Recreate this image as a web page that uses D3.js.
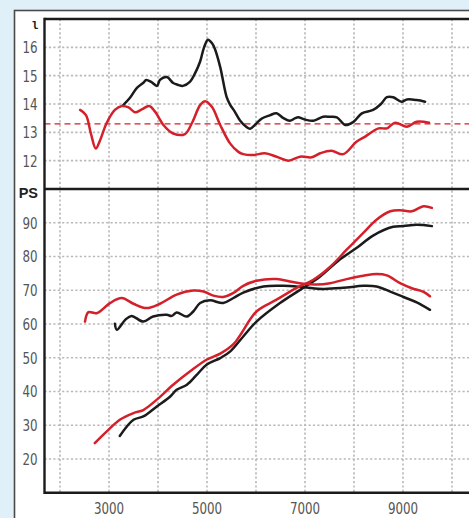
<!DOCTYPE html>
<html><head><meta charset="utf-8">
<script src="https://cdn.jsdelivr.net/npm/d3@7"></script>
<style>
html,body{margin:0;padding:0;background:#dff0f9;}
svg{display:block;}
</style></head>
<body>
<script>
// ---------- DATA ----------
const xTicks = [3000, 5000, 7000, 9000];
const xGrid = [2000, 3000, 4000, 5000, 6000, 7000, 8000, 9000, 10000];
const topTicks = [12, 13, 14, 15, 16];
const botTicks = [20, 30, 40, 50, 60, 70, 80, 90];
const refLine = 13.3;

// top panel: consumption (l)
const consBlackRpm = [3290,3420,3570,3700,3760,3860,3980,4040,4180,4310,4400,4510,4650,4760,4860,4940,5020,5100,5160,5270,5400,5470,5560,5670,5800,5880,6000,6120,6280,6420,6560,6690,6800,6860,7000,7170,7370,7500,7650,7820,7990,8160,8390,8550,8670,8800,8970,9080,9280,9450];
const consBlack = [13.96,14.2,14.57,14.75,14.85,14.78,14.64,14.85,14.95,14.74,14.68,14.64,14.78,15.1,15.5,16.0,16.27,16.15,15.95,15.3,14.25,13.98,13.75,13.43,13.2,13.13,13.3,13.49,13.6,13.67,13.5,13.41,13.5,13.53,13.45,13.41,13.55,13.55,13.53,13.26,13.37,13.67,13.79,14.0,14.24,14.24,14.08,14.16,14.14,14.08];
const consRedRpm = [2410,2530,2630,2730,2820,2950,3120,3260,3400,3530,3670,3820,3940,4110,4310,4550,4690,4860,4960,5100,5270,5470,5640,5740,5950,6180,6420,6660,6900,7140,7310,7540,7780,8050,8220,8500,8670,8840,9080,9280,9530];
const consRed = [13.79,13.61,12.96,12.43,12.73,13.32,13.79,13.93,13.88,13.71,13.81,13.93,13.73,13.26,12.96,12.94,13.32,13.96,14.1,13.9,13.26,12.61,12.31,12.23,12.2,12.26,12.14,12.0,12.14,12.12,12.26,12.35,12.23,12.67,12.84,13.14,13.14,13.34,13.2,13.37,13.34];

// bottom panel: PS
const flatRedRpm = [2510,2580,2750,3020,3260,3500,3770,4040,4380,4720,4930,5130,5330,5540,5740,6010,6420,6690,6970,7240,7510,7850,8190,8460,8670,8940,9180,9420,9550];
const flatRed = [60.7,63.5,63.2,66.2,67.7,66.0,64.7,66.0,68.7,69.9,69.6,68.4,68.0,69.2,71.3,72.8,73.3,72.6,71.9,71.7,72.1,73.3,74.3,74.8,74.4,72.1,70.6,69.5,68.2];
const flatBlackRpm = [3120,3160,3330,3460,3700,3900,4180,4280,4380,4590,4720,4860,5060,5330,5540,5740,6150,6560,6970,7370,7780,8190,8460,8740,9010,9280,9550];
const flatBlack = [60.1,58.3,61.2,62.4,60.7,62.2,62.7,62.4,63.4,62.2,63.7,66.2,67.0,66.2,67.7,69.3,71.1,71.3,70.9,70.4,70.7,71.3,71.1,69.6,68.0,66.4,64.2];
const riseRedRpm = [2710,2950,3220,3500,3700,3970,4310,4650,4990,5270,5540,5700,6010,6420,6830,7170,7510,7850,8190,8460,8740,8940,9180,9420,9590];
const riseRed = [24.7,28.1,31.6,33.6,34.5,37.5,42.0,45.9,49.4,51.2,54.0,57.2,63.7,67.2,70.7,73.1,76.9,82.0,87.0,90.9,93.4,93.7,93.4,94.9,94.4];
const riseBlackRpm = [3220,3500,3700,3970,4250,4380,4590,4790,4990,5270,5470,5740,6010,6490,6900,7310,7710,8050,8390,8800,9010,9280,9590];
const riseBlack = [26.8,31.6,32.6,35.5,38.5,40.5,42.0,44.9,47.9,49.9,51.8,56.3,60.7,66.2,70.1,74.1,79.1,82.5,86.2,88.8,89.0,89.4,89.0];

// ---------- LAYOUT ----------
const W = 469, H = 518;
const RED = "#d4202b", BLACK = "#1b1b1b";
const left = 44.5, right = 475, topY = 19, sepY = 189, botY = 492.7;

const svg = d3.select("body").append("svg").attr("width", W).attr("height", H);
svg.append("rect").attr("width", W).attr("height", H).attr("fill", "#dff0f9");
svg.append("rect").attr("x", 14.5).attr("y", 10.5).attr("width", 480).attr("height", 520)
  .attr("fill", "#fff").attr("stroke", "#4a4a4a").attr("stroke-width", 1.6);

const x = d3.scaleLinear().domain([2000, 10000]).range([60, 452]);
const yT = d3.scaleLinear().domain([11, 17]).range([sepY, topY]);
const yB = d3.scaleLinear().domain([10, 100]).range([botY, sepY]);

const gridStyle = s => s.attr("stroke", "#b9b9b9").attr("stroke-width", 1.6).attr("stroke-dasharray", "2.2,2.2");

// vertical grid
gridStyle(svg.append("g").selectAll("line").data(xGrid).join("line")
  .attr("x1", d => x(d)).attr("x2", d => x(d)).attr("y1", topY).attr("y2", botY));
// horizontal grid
gridStyle(svg.append("g").selectAll("line").data(topTicks).join("line")
  .attr("x1", left).attr("x2", right).attr("y1", d => yT(d)).attr("y2", d => yT(d)));
gridStyle(svg.append("g").selectAll("line").data(botTicks).join("line")
  .attr("x1", left).attr("x2", right).attr("y1", d => yB(d)).attr("y2", d => yB(d)));

// reference dashed line
svg.append("line").attr("x1", left).attr("x2", right).attr("y1", yT(refLine)).attr("y2", yT(refLine))
  .attr("stroke", RED).attr("stroke-width", 1.4).attr("stroke-dasharray", "6,4");

// frame
const frame = svg.append("g").attr("stroke", BLACK).attr("stroke-width", 2.4).attr("fill", "none");
frame.append("line").attr("x1", left).attr("x2", right).attr("y1", topY).attr("y2", topY);
frame.append("line").attr("x1", left).attr("x2", right).attr("y1", sepY).attr("y2", sepY);
frame.append("line").attr("x1", left).attr("x2", right).attr("y1", botY).attr("y2", botY);
frame.append("line").attr("x1", left).attr("x2", left).attr("y1", topY - 1.2).attr("y2", botY + 1.2);

// lines
function drawLine(rpm, vals, yScale, color) {
  const pts = rpm.map((r, i) => [r, vals[i]]);
  const gen = d3.line().x(d => x(d[0])).y(d => yScale(d[1])).curve(d3.curveCatmullRom.alpha(0.5));
  svg.append("path").attr("d", gen(pts)).attr("fill", "none").attr("stroke", color)
    .attr("stroke-width", 2.5).attr("stroke-linejoin", "round").attr("stroke-linecap", "round");
}
drawLine(consBlackRpm, consBlack, yT, BLACK);
drawLine(consRedRpm, consRed, yT, RED);
drawLine(riseBlackRpm, riseBlack, yB, BLACK);
drawLine(flatBlackRpm, flatBlack, yB, BLACK);
drawLine(riseRedRpm, riseRed, yB, RED);
drawLine(flatRedRpm, flatRed, yB, RED);

// tick labels
const FONT = "'Liberation Sans Narrow', 'DejaVu Sans Condensed', sans-serif";
function label(g, data, px, py, anchor) {
  g.selectAll("text").data(data).join("text")
    .attr("transform", d => `translate(${px(d)},${py(d)}) scale(0.8,1)`)
    .attr("text-anchor", anchor).attr("font-family", FONT).attr("font-size", 16.5)
    .attr("fill", "#555").text(d => d);
}
label(svg.append("g"), topTicks, () => 37.5, d => yT(d) + 6, "end");
label(svg.append("g"), botTicks, () => 37.5, d => yB(d) + 6, "end");
label(svg.append("g"), xTicks, d => x(d), () => 514, "middle");

// unit labels
svg.append("text").attr("x", 38.5).attr("y", 29).attr("text-anchor", "end")
  .attr("font-family", "'DejaVu Sans Mono', monospace").attr("font-weight", "bold")
  .attr("font-size", 11).attr("fill", "#222").text("l");
svg.append("text").attr("x", 38).attr("y", 198).attr("text-anchor", "end")
  .attr("font-family", "'Liberation Sans', 'DejaVu Sans', sans-serif").attr("font-weight", "bold")
  .attr("font-size", 14.5).attr("fill", "#222").text("PS");
</script>
</body></html>
